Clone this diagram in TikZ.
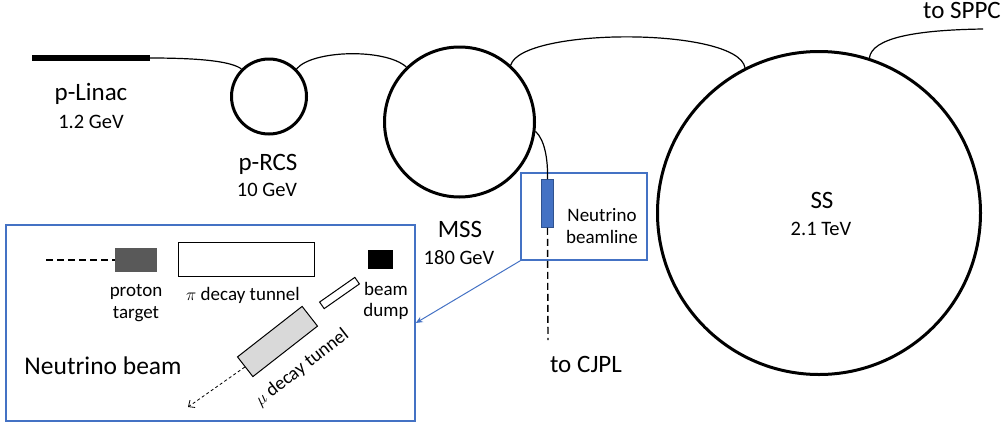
\documentclass[tikz,border=0pt]{standalone}
\usepackage{fontspec}
\setmainfont{Carlito}
\usetikzlibrary{arrows.meta}
\definecolor{accblue}{HTML}{4472C4}
\definecolor{darkblue}{HTML}{2F528F}
\definecolor{targetgray}{HTML}{595959}
\definecolor{tunnelgray}{HTML}{D9D9D9}
\begin{document}
\begin{tikzpicture}[x=1pt,y=-1pt,
  ring/.style={circle,draw,line width=3pt,inner sep=0pt},
  conn/.style={line width=1.2pt},
  biglbl/.style={font=\fontsize{25}{30}\selectfont,anchor=base,inner sep=0pt},
  midlbl/.style={font=\fontsize{20.5}{24}\selectfont,anchor=base,inner sep=0pt},
  smalllbl/.style={font=\fontsize{19}{23}\selectfont,anchor=base,inner sep=0pt},
  bluebox/.style={draw=accblue,line width=1.5pt,inner sep=0pt},
  dashline/.style={line width=1.4pt,dash pattern=on 7pt off 4pt},
]
\useasboundingbox (0,0) rectangle (1007,429);

% accelerators
\coordinate (linacL) at (32,58);
\coordinate (linacR) at (150,58);
\draw[line width=6pt] (linacL) -- (linacR);
\node[ring,minimum size=75pt] (rcs) at (269,96.5) {};
\node[ring,minimum size=150pt] (mss) at (459.5,122) {};
\node[ring,minimum size=323pt] (ss) at (819,213) {};
\coordinate (sppc) at (983,29);

% transfer lines
\draw[conn] (linacR) .. controls (205,58) and (232,62) .. (rcs.135);
\draw[conn] (rcs.45) .. controls (312,50) and (385,48) .. (mss.134);
\draw[conn] (mss.48) .. controls (522,27) and (738,27) .. (ss.117);
\draw[conn] (ss.72) .. controls (872,38) and (915,30) .. (sppc);

% labels
\node[biglbl] (linaclbl) at (91,100) {p-Linac};
\node[midlbl] (linacE) at (91,128) {1.2 GeV};
\node[biglbl] (rcslbl) at (268,170) {p-RCS};
\node[midlbl] (rcsE) at (267,196) {10 GeV};
\node[biglbl] (msslbl) at (460,237) {MSS};
\node[midlbl] (mssE) at (459,264) {180 GeV};
\node[biglbl] (sslbl) at (822,208) {SS};
\node[midlbl] (ssE) at (821,235) {2.1 TeV};
\node[biglbl] (sppclbl) at (962,18) {to SPPC};

% neutrino beamline
\node[bluebox,minimum width=126pt,minimum height=87pt] (nbbox) at (584,216.5) {};
\node[fill=accblue,draw=darkblue,line width=0.8pt,minimum width=12pt,minimum height=48pt,inner sep=0pt] (nb) at (547.5,203.5) {};
\draw[conn] (mss.-7) .. controls (545,140) and (548,160) .. (nb.north);
\coordinate (cjpl) at (548,340);
\draw[dashline] (nb.south) -- (cjpl);
\node[smalllbl] (nblbl1) at (602,221) {Neutrino};
\node[smalllbl] (nblbl2) at (602,243) {beamline};
\node[biglbl] (cjpllbl) at (586,372) {to CJPL};

% detail box
\node[bluebox,minimum width=409pt,minimum height=196pt] (bigbox) at (210.5,323) {};
\draw[accblue,line width=1pt,-{Stealth[length=7pt,width=6pt]}] (nbbox.south west) -- (bigbox.east);

\coordinate (beamin) at (46,260);
\node[fill=targetgray,minimum width=42pt,minimum height=24pt,inner sep=0pt] (target) at (136,260) {};
\draw[dashline] (beamin) -- (target.west);
\node[draw,fill=white,line width=1.5pt,minimum width=136pt,minimum height=34pt,inner sep=0pt] (pitunnel) at (246.5,259.5) {};
\node[fill=black,minimum width=25pt,minimum height=19pt,inner sep=0pt] (dump) at (380.5,259.5) {};
\node[draw,fill=white,line width=1pt,minimum width=43pt,minimum height=8pt,inner sep=0pt,rotate=35] (small) at (339.5,293) {};
\node[draw,fill=tunnelgray,line width=1pt,minimum width=82pt,minimum height=25pt,inner sep=0pt,rotate=38] (mutunnel) at (277.5,341.5) {};
\coordinate (nuout) at (188,407);
\draw[line width=0.8pt,dash pattern=on 3pt off 2.5pt,-{Straight Barb[length=5pt,width=9pt]}] (mutunnel.west) -- (nuout);

\node[smalllbl] (ptlbl1) at (136,296) {proton};
\node[smalllbl] (ptlbl2) at (136,318) {target};
\node[smalllbl] (pilbl) at (243,300) {$\pi$ decay tunnel};
\node[smalllbl] (bdlbl1) at (386,295) {beam};
\node[smalllbl] (bdlbl2) at (386,316) {dump};
\node[font=\fontsize{19}{23}\selectfont,inner sep=0pt,rotate=38] (mulbl) at (302,368) {$\mu$ decay tunnel};
\node[font=\fontsize{25.5}{30}\selectfont,anchor=base,inner sep=0pt] (nbeamlbl) at (103,374) {Neutrino beam};
\end{tikzpicture}
\end{document}
